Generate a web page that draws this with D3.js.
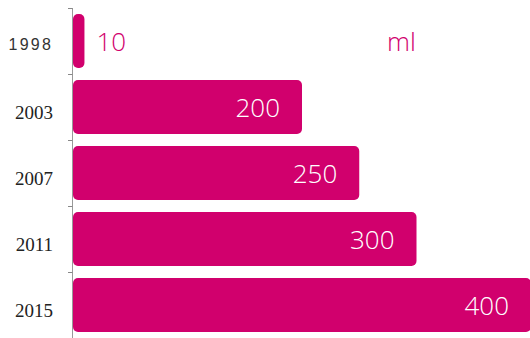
<!DOCTYPE html>
<html>
<head>
<meta charset="utf-8">
<script src="https://cdn.jsdelivr.net/npm/d3@7"></script>
<style>
  html, body { margin: 0; padding: 0; background: #fff; }
  svg { display: block; }
</style>
</head>
<body>
<svg id="chart" width="530" height="338"></svg>
<script>
// Yearly volumes (ml)
const years = ["1998", "2003", "2007", "2011", "2015"];
const volumes = [10, 200, 250, 300, 400];
const unitLabel = "ml";

const W = 530, H = 338;
const barColor = "#d1006d";
const svg = d3.select("#chart");

const x = d3.scaleLinear().domain([0, 400]).range([73, 531]);
const y = d3.scaleBand().domain(years).range([8, 338]).paddingInner(0.18).paddingOuter(0.09);

// Axis line with ticks at category boundaries
const bounds = years.map(d => y(d) - y.step() * y.paddingInner() / 2);
bounds.push(y.range()[1]);
const axisG = svg.append("g");
axisG.append("line")
  .attr("x1", 72.5).attr("x2", 72.5)
  .attr("y1", bounds[0]).attr("y2", bounds[bounds.length - 1])
  .attr("stroke", "#999").attr("stroke-width", 1);
axisG.selectAll("line.tick").data(bounds).join("line")
  .attr("class", "tick")
  .attr("x1", 68).attr("x2", 72.5)
  .attr("y1", d => Math.round(d) + 0.5).attr("y2", d => Math.round(d) + 0.5)
  .attr("stroke", "#888").attr("stroke-width", 1);

// Category labels (the first year is set in a light, spaced sans face)
svg.append("g").selectAll("text").data(years).join("text")
  .attr("x", 53)
  .attr("y", d => y(d) + y.bandwidth() / 2 + (d === "1998" ? 9 : 12))
  .attr("text-anchor", "end")
  .attr("font-family", d => d === "1998" ? "'Liberation Sans', sans-serif" : "'Liberation Serif', serif")
  .attr("font-size", d => d === "1998" ? 16 : 19)
  .attr("letter-spacing", d => d === "1998" ? 2.2 : 0)
  .attr("fill", d => d === "1998" ? "#333" : "#222")
  .text(d => d);

// Bars
const data = years.map((d, i) => ({ year: d, v: volumes[i] }));
svg.append("g").selectAll("rect").data(data).join("rect")
  .attr("x", x(0))
  .attr("y", d => y(d.year))
  .attr("width", d => x(d.v) - x(0))
  .attr("height", y.bandwidth())
  .attr("rx", 5).attr("ry", 5)
  .attr("fill", barColor);

// Value labels: inside wide bars, outside narrow ones
const fontFam = "'Open Sans', 'Noto Sans', sans-serif";
svg.append("g").selectAll("text").data(data).join("text")
  .attr("x", d => d.v < 50 ? x(d.v) + 12 : x(d.v) - 22)
  .attr("y", d => y(d.year) + y.bandwidth() / 2 + 10)
  .attr("text-anchor", d => d.v < 50 ? "start" : "end")
  .attr("font-family", fontFam)
  .attr("font-weight", 300)
  .attr("font-size", 26)
  .attr("fill", d => d.v < 50 ? barColor : "#fff")
  .text(d => d.v);

// Unit label
svg.append("text")
  .attr("x", 387)
  .attr("y", y(years[0]) + y.bandwidth() / 2 + 10)
  .attr("font-family", fontFam)
  .attr("font-weight", 300)
  .attr("font-size", 26)
  .attr("fill", barColor)
  .text(unitLabel);
</script>
</body>
</html>
